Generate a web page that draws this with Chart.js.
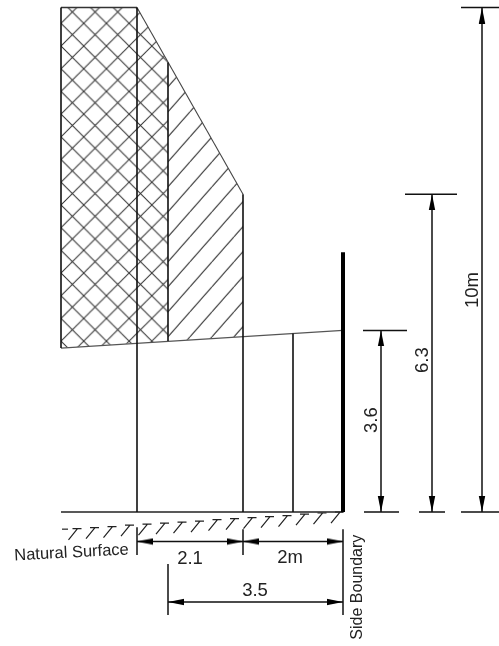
<!DOCTYPE html>
<html><head><meta charset="utf-8">
<style>html,body{margin:0;padding:0;background:#fff}canvas{display:block}</style>
<script src="https://cdn.jsdelivr.net/npm/chart.js@4"></script></head>
<body><canvas id="c" width="499" height="646"></canvas>
<script>
// Values in metres: x measured from the side boundary, y from the ground line.
const crossHatchArea = [[-5.64,10],[-4.12,10],[-3.5,8.91],[-3.5,3.39],[-5.64,3.25]];
const singleHatchArea = [[-3.5,8.91],[-2,6.3],[-2,3.48],[-3.5,3.39]];
const envelopeLine = [[-4.12,10],[-2,6.3]];
const topLine = [[-5.64,10],[-4.12,10]];
const heightPlane = [[-5.64,3.25],[0,3.6]];
const groundLine = [[-5.64,0],[0,0]];
const boundaryWall = [[0,0],[0,5.15]];
const verticals = [
  [-5.64,3.25,10],[-4.12,0,10],[-3.5,3.39,8.91],[-2,0,6.3],[-1,0,3.54]
];
const dimTicks = [
  [-4.12,-0.30,-4.12,-0.85],[-2,-0.34,-2,-0.85],[0,-0.34,0,-2.04],[-3.5,-1.03,-3.5,-2.04],
  [0.40,3.6,1.28,3.6],[0.42,0,1.12,0],[1.24,6.3,2.28,6.3],[1.52,0,2.04,0],[2.36,10,3.12,10],[2.36,0,3.12,0]
];
const dimLines = [
  [-4.12,-0.585,0,-0.585],[-3.5,-1.784,0,-1.784],
  [0.76,0,0.76,3.6],[1.78,0,1.78,6.3],[2.78,0,2.78,10]
];
const arrowTips = [
  [-4.12,-0.585,270],[-2,-0.585,90],[-2,-0.585,270],[0,-0.585,90],
  [-3.5,-1.784,270],[0,-1.784,90],
  [0.76,3.6,0],[0.76,0,180],[1.78,6.3,0],[1.78,0,180],[2.78,10,0],[2.78,0,180]
];
const surfaceX = [-5.31,-4.96,-4.61,-4.26,-3.91,-3.56,-3.21,-2.86,-2.51,-2.16,-1.81,-1.46,-1.11,-0.76,-0.41,-0.06];
const surfaceY = [-0.33,-0.31,-0.29,-0.26,-0.24,-0.22,-0.20,-0.18,-0.15,-0.13,-0.11,-0.09,-0.07,-0.04,-0.02,0];
const surfaceDash = [[-5.62,-0.34],[-5.50,-0.34]];
const labelText = ["10m","6.3","3.6","2.1","2m","3.5","Natural Surface","Side Boundary"];
const labelX = [2.6,1.6,0.58,-3.06,-1.06,-1.76,-5.43,0.30];
const labelY = [4.40,3.01,1.82,-0.93,-0.91,-1.57,-0.81,-1.49];
const labelAngle = [-90,-90,-90,0,0,0,-3,-90];
const labelSize = [18.5,18.5,18.5,18.5,18.5,18.5,16.5,16];

const pts = a => a.map(p => ({x:p[0], y:p[1]}));
const gap = {x:NaN, y:NaN};
const segs = a => a.flatMap(s => [{x:s[0],y:s[1]},{x:s[2],y:s[3]},gap]);

function crossPattern(ctx){
  const n=23, t=document.createElement('canvas'); t.width=t.height=n;
  const g=t.getContext('2d'); g.strokeStyle='#333'; g.lineWidth=1.05;
  g.beginPath();
  for(const o of [-n,0,n]){ g.moveTo(o,0); g.lineTo(o+n,n); g.moveTo(o,n); g.lineTo(o+n,0); }
  g.stroke();
  const p=ctx.createPattern(t,'repeat'), s=22.7/n;
  p.setTransform(new DOMMatrix([s,0,0,s,61,23.3]));
  return p;
}
function slashPattern(ctx){
  const w=22,h=25,t=document.createElement('canvas'); t.width=w; t.height=h;
  const g=t.getContext('2d'); g.strokeStyle='#222'; g.lineWidth=1.05;
  g.beginPath();
  for(const o of [-w,0,w]){ g.moveTo(o,h); g.lineTo(o+w,0); }
  g.stroke();
  const p=ctx.createPattern(t,'repeat');
  p.setTransform(new DOMMatrix([1,0,0,1,168,211.7]));
  return p;
}
function arrowHead(){
  const t=document.createElement('canvas'); t.width=8; t.height=32;
  const g=t.getContext('2d'); g.fillStyle='#000';
  g.beginPath(); g.moveTo(4,16); g.lineTo(7.2,32); g.lineTo(0.8,32); g.closePath(); g.fill();
  return t;
}
const labelsPlugin = {
  id:'labels',
  afterDatasetsDraw(chart){
    const {ctx,scales:{x,y}} = chart;
    ctx.save(); ctx.fillStyle='#222'; ctx.textAlign='center'; ctx.textBaseline='middle';
    labelText.forEach((s,i)=>{
      ctx.save();
      ctx.translate(x.getPixelForValue(labelX[i]), y.getPixelForValue(labelY[i]));
      ctx.rotate(labelAngle[i]*Math.PI/180);
      ctx.font = labelSize[i]+'px "Liberation Sans"';
      ctx.fillText(s,0,0);
      ctx.restore();
    });
    ctx.restore();
  }
};
const el = document.getElementById('c');
const ctx = el.getContext('2d');
const line = (data,width,color,extra) => Object.assign({data,showLine:true,borderWidth:width,borderColor:color,pointRadius:0,tension:0,spanGaps:false,fill:false},extra||{});
const surfaceMarks = surfaceX.flatMap((v,i)=>{
  const h=surfaceY[i];
  return [{x:v-0.1,y:h},{x:v+0.08,y:h},gap,{x:v,y:h},{x:v-0.18,y:h-0.22},gap];
});
new Chart(ctx,{
  type:'scatter',
  data:{datasets:[
    {data:pts(arrowTips),showLine:false,pointStyle:arrowHead(),pointRadius:16,rotation:arrowTips.map(a=>a[2])},
    line(pts(boundaryWall),4,'#000'),
    line(segs(verticals.map(v=>[v[0],v[1],v[0],v[2]])),1.6,'#111'),
    line(segs(dimLines),1.5,'#111'),
    line(segs(dimTicks),1.5,'#111'),
    line(pts(groundLine),1.4,'#222'),
    line(pts(heightPlane),1.2,'#555'),
    line(pts(envelopeLine),1.1,'#444'),
    line(pts(topLine),1.3,'#333'),
    line(surfaceMarks,1.2,'#222'),
    line(pts(surfaceDash),1.2,'#222'),
    line(pts(crossHatchArea),0,'transparent',{fill:'shape',backgroundColor:crossPattern(ctx)}),
    line(pts(singleHatchArea),0,'transparent',{fill:'shape',backgroundColor:slashPattern(ctx)})
  ]},
  options:{
    responsive:false,animation:false,devicePixelRatio:1,
    layout:{padding:0,autoPadding:false},
    plugins:{legend:{display:false},tooltip:{enabled:false},title:{display:false}},
    scales:{
      x:{type:'linear',display:false,min:-6.86,max:3.12},
      y:{type:'linear',display:false,min:-2.656,max:10.149}
    }
  },
  plugins:[labelsPlugin]
});
</script></body></html>
